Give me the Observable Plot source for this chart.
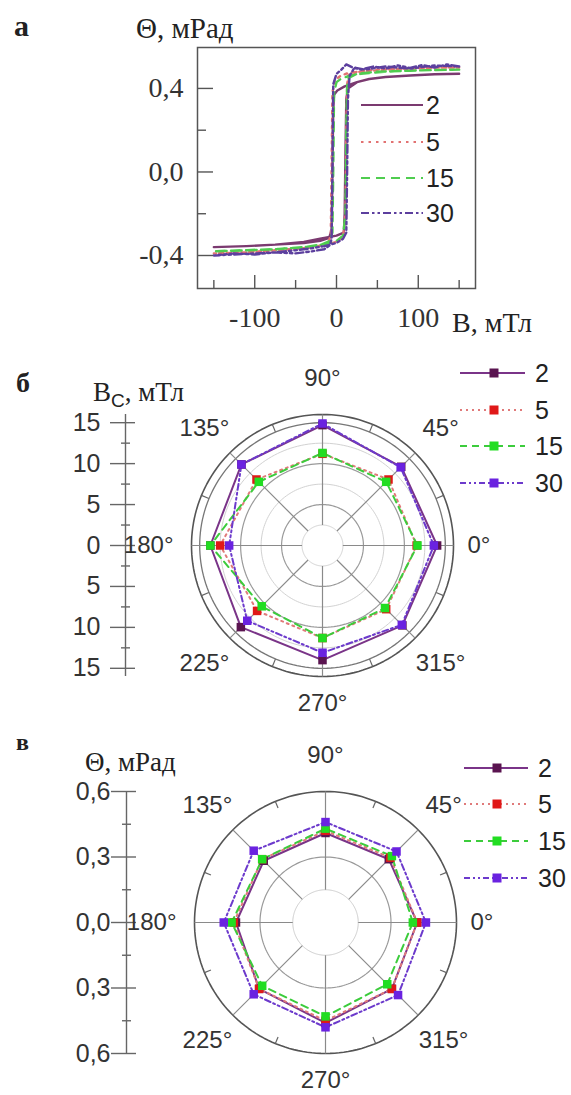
<!DOCTYPE html>
<html><head><meta charset="utf-8">
<script src="https://cdn.jsdelivr.net/npm/d3@7"></script>
<script src="https://cdn.jsdelivr.net/npm/@observablehq/plot@0.6"></script>
<style>
body{margin:0;background:#fff;}
#wrap{position:relative;width:571px;height:1095px;overflow:hidden;background:#fff;}
#wrap svg{position:absolute;left:0;}
</style></head><body><div id="wrap"></div>
<script>
// ---------- data ----------
const seriesNames = ["2", "5", "15", "30"];

// (a) hysteresis loops: field B (mT) and rotation Θ (mrad)
const s2B  = [150,120,90,60,40,25,10,1,-3,-4,-5,-6,-9,-20,-40,-75,-110,-150, -150,-110,-75,-40,-20,0,9,10,11,12,14,25,40,60,90,120,150];
const s2T  = [0.47,0.468,0.462,0.455,0.445,0.43,0.41,0.39,0.37,0.30,0.0,-0.28,-0.315,-0.33,-0.34,-0.348,-0.355,-0.36, -0.36,-0.355,-0.348,-0.335,-0.32,-0.305,-0.29,-0.2,0.1,0.35,0.40,0.43,0.445,0.455,0.462,0.468,0.47];
const s5B  = [150,120,90,60,30,15,5,-2,-5,-6,-7,-10,-20,-40,-75,-110,-150, -150,-110,-75,-40,-15,0,8,11,12,13,15,25,50,90,120,150];
const s5T  = [0.50,0.50,0.495,0.49,0.48,0.475,0.46,0.44,0.38,0.0,-0.30,-0.34,-0.355,-0.365,-0.375,-0.385,-0.39, -0.39,-0.385,-0.375,-0.365,-0.35,-0.335,-0.31,-0.2,0.2,0.42,0.465,0.48,0.49,0.495,0.50,0.50];
const s15B = [150,120,90,60,30,15,5,0,-3,-4,-5,-8,-20,-40,-75,-110,-150, -150,-110,-75,-40,-15,0,8,11,12,13,15,25,50,90,120,150];
const s15T = [0.49,0.488,0.485,0.48,0.47,0.46,0.445,0.43,0.38,0.0,-0.29,-0.33,-0.35,-0.36,-0.37,-0.375,-0.38, -0.38,-0.375,-0.37,-0.36,-0.345,-0.33,-0.305,-0.2,0.2,0.41,0.45,0.47,0.48,0.485,0.488,0.49];
const s30B = [150,135,120,105,90,75,60,45,30,20,12,6,0,-4,-5,-6,-8,-15,-30,-50,-75,-100,-125,-150, -150,-125,-100,-75,-50,-30,-15,0,8,12,13,14,16,22,35,60,90,120,150];
const s30T = [0.505,0.515,0.50,0.512,0.498,0.51,0.495,0.505,0.49,0.50,0.515,0.49,0.47,0.42,0.0,-0.32,-0.35,-0.37,-0.38,-0.39,-0.385,-0.395,-0.39,-0.40, -0.40,-0.395,-0.39,-0.385,-0.375,-0.365,-0.355,-0.34,-0.32,-0.29,0.0,0.35,0.46,0.50,0.49,0.505,0.495,0.51,0.505];
const hystXMajor = [-100, 0, 100];
const hystXMinor = [-150, -50, 50, 150];
const hystYMajor = [-0.4, 0, 0.4];
const hystYMinor = [-0.2, 0.2];

// (б, в) polar data
const angles = [0, 45, 90, 135, 180, 225, 270, 315];
const angleLabels = ["0°", "45°", "90°", "135°", "180°", "225°", "270°", "315°"];
const bc2  = [14.0, 13.6, 14.7, 14.0, 13.7, 14.1, 14.0, 13.8];
const bc5  = [11.5, 11.4, 11.2, 11.4, 12.5, 11.3, 11.3, 11.0];
const bc15 = [11.6, 11.0, 11.3, 11.0, 13.7, 10.5, 11.3, 10.8];
const bc30 = [13.6, 13.5, 14.9, 14.0, 11.4, 13.0, 13.1, 13.7];
const th2  = [0.42, 0.41, 0.41, 0.40, 0.41, 0.43, 0.46, 0.43];
const th5  = [0.42, 0.42, 0.42, 0.41, 0.42, 0.43, 0.45, 0.43];
const th15 = [0.40, 0.43, 0.43, 0.41, 0.43, 0.41, 0.43, 0.40];
const th30 = [0.46, 0.46, 0.46, 0.465, 0.466, 0.465, 0.48, 0.47];
const bcTicks  = [-15, -10, -5, 0, 5, 10, 15];
const bcMinor  = [-12.5, -7.5, -2.5, 2.5, 7.5, 12.5];
const bcRings  = [2.5, 5, 7.5, 10, 12.5, 15, 16];
const thTicks  = [-0.6, -0.3, 0, 0.3, 0.6];
const thMinor  = [-0.45, -0.15, 0.15, 0.45];
const thRings  = [0.15, 0.3, 0.6];

// ---------- styles ----------
const hystStyle = {
  "2":  {stroke: "#7b3a70", dash: null, w: 2.4},
  "5":  {stroke: "#e27272", dash: "2.5,5", w: 2.4},
  "15": {stroke: "#4fcd4f", dash: "9,6", w: 2.4},
  "30": {stroke: "#5c3f9e", dash: "8,3,2.5,3,2.5,3", w: 2.4}
};
const polStyle = {
  "2":  {stroke: "#7a3488", dash: null, marker: "#5a1450", w: 2},
  "5":  {stroke: "#e07a7a", dash: "2,4", marker: "#e01818", w: 2},
  "15": {stroke: "#3ccc3c", dash: "7,5", marker: "#22dd22", w: 2},
  "30": {stroke: "#6c3acc", dash: "6,3,2,3,2,3", marker: "#6a22e0", w: 2}
};
const SANS = "'Liberation Sans', Arial, sans-serif";
const SERIF = "'Liberation Serif', 'Times New Roman', serif";
const wrap = document.getElementById("wrap");

// ---------- (a) hysteresis ----------
const hystSets = {"2": [s2B, s2T], "5": [s5B, s5T], "15": [s15B, s15T], "30": [s30B, s30T]};
const hystRows = seriesNames.flatMap(n => hystSets[n][0].map((b, i) => ({name: n, B: b, T: hystSets[n][1][i]})));
const A = {w: 571, h: 345, left: 197, right: 475, top: 47, bottom: 288};
const fmtComma = d => (Math.abs(d) < 1e-9 ? 0 : d).toFixed(1).replace(".", ",");
const plotA = Plot.plot({
  width: A.w, height: A.h,
  marginLeft: A.left, marginRight: A.w - A.right, marginTop: A.top, marginBottom: A.h - A.bottom,
  x: {domain: [-170, 170]},
  y: {domain: [-0.558, 0.596]},
  style: {fontFamily: SERIF, fontSize: "28px", color: "#333", background: "transparent", overflow: "visible"},
  marks: [
    ...seriesNames.map(n => Plot.line(hystRows.filter(d => d.name === n), {
      x: "B", y: "T", stroke: hystStyle[n].stroke, strokeWidth: hystStyle[n].w,
      strokeDasharray: hystStyle[n].dash, curve: "linear"
    })),
    Plot.tickX(hystXMajor, {x: d => d, insetTop: (A.bottom - A.top) - 13, stroke: "#555", strokeWidth: 1.4}),
    Plot.tickX(hystXMinor, {x: d => d, insetTop: (A.bottom - A.top) - 8, stroke: "#555", strokeWidth: 1.4}),
    Plot.tickY(hystYMajor, {y: d => d, insetRight: (A.right - A.left) - 16, stroke: "#555", strokeWidth: 1.4}),
    Plot.tickY(hystYMinor, {y: d => d, insetRight: (A.right - A.left) - 9, stroke: "#555", strokeWidth: 1.4}),
    Plot.axisX(hystXMajor, {tickSize: 0, tickPadding: 19, tickFormat: d => String(d), label: null, fontSize: 28, fill: "#333"}),
    Plot.axisY(hystYMajor, {tickSize: 0, tickPadding: 14, tickFormat: fmtComma, label: null, fontSize: 28, fill: "#333"}),
    Plot.frame({stroke: "#555", strokeWidth: 1.5})
  ]
});
plotA.style.top = "0px";
wrap.appendChild(plotA);

// ---------- polar helper ----------
function polarPlot(cfg) {
  const W = 571, H = cfg.height;
  const k = cfg.R / cfg.rMax;
  const rad = a => a * Math.PI / 180;
  const ringPts = cfg.rings.flatMap((r, j) => d3.range(0, 361, 2).map(a => ({ring: j, r, x: r * Math.cos(rad(a)), y: r * Math.sin(rad(a))})));
  const spokes = angles.map(a => ({x1: cfg.spokeIn * Math.cos(rad(a)), y1: cfg.spokeIn * Math.sin(rad(a)), x2: cfg.rMax * Math.cos(rad(a)), y2: cfg.rMax * Math.sin(rad(a))}));
  const minorAng = angles.map(a => a + 22.5);
  const rIn = cfg.rMax - cfg.minorLen / k;
  const minorTicks = minorAng.map(a => ({x1: rIn * Math.cos(rad(a)), y1: rIn * Math.sin(rad(a)), x2: cfg.rMax * Math.cos(rad(a)), y2: cfg.rMax * Math.sin(rad(a))}));
  const ax = (cfg.axisPx - cfg.cx) / k;
  const pts = seriesNames.flatMap(n => cfg.values[n].map((v, i) => ({name: n, a: angles[i], r: v, x: v * Math.cos(rad(angles[i])), y: v * Math.sin(rad(angles[i]))})));
  const closed = n => { const p = pts.filter(d => d.name === n); return [...p, p[0]]; };
  const lab = angles.map((a, i) => {
    let dx, dy, anchor = "middle";
    if (a === 0) { dx = 145; dy = 0; anchor = "start"; }
    else if (a === 180) { dx = -149; dy = 0; anchor = "end"; }
    else if (a === 90) { dx = 0; dy = 167; }
    else if (a === 270) { dx = 0; dy = -158; }
    else { dx = 167 * Math.cos(rad(a)); dy = 166 * Math.sin(rad(a)); }
    return {text: angleLabels[i], x: dx / k, y: dy / k, anchor};
  });
  const ringColor = cfg.ringColor;
  const marks = [
    ...cfg.rings.map((r, j) => Plot.line(ringPts.filter(d => d.ring === j), {x: "x", y: "y", stroke: ringColor(r).c, strokeWidth: ringColor(r).w})),
    Plot.link(spokes, {x1: "x1", y1: "y1", x2: "x2", y2: "y2", stroke: "#8a8a8a", strokeWidth: 1.2}),
    Plot.link(minorTicks, {x1: "x1", y1: "y1", x2: "x2", y2: "y2", stroke: "#666", strokeWidth: 1.2}),
    ...seriesNames.map(n => Plot.line(closed(n), {x: "x", y: "y", stroke: polStyle[n].stroke, strokeWidth: polStyle[n].w, strokeDasharray: polStyle[n].dash})),
    ...seriesNames.map(n => Plot.dot(pts.filter(d => d.name === n), {x: "x", y: "y", symbol: "square", r: 4.8, fill: polStyle[n].marker, stroke: null})),
    // left radial axis
    Plot.ruleX([ax], {x: d => d, y1: -cfg.axisMax, y2: cfg.axisMax, stroke: "#666", strokeWidth: 1.4}),
    Plot.ruleY(cfg.ticks, {y: d => d, x1: ax - 15 / k, x2: ax + 10 / k, stroke: "#666", strokeWidth: 1.4}),
    Plot.ruleY(cfg.minor, {y: d => d, x1: ax - 4 / k, x2: ax + 5 / k, stroke: "#666", strokeWidth: 1.4}),
    Plot.text(cfg.ticks, {x: ax - cfg.labelGap / k, y: d => d, text: cfg.tickFmt, textAnchor: "end", fontSize: 25, fontFamily: SANS, fill: "#333"}),
    ...["start", "middle", "end"].map(an => Plot.text(lab.filter(d => d.anchor === an), {x: "x", y: "y", text: "text", textAnchor: an, fontSize: 24, fontFamily: SANS, fill: "#333"}))
  ];
  const p = Plot.plot({
    width: W, height: H, margin: 0,
    x: {domain: [-cfg.cx / k, (W - cfg.cx) / k], axis: null},
    y: {domain: [-(H - cfg.cy) / k, cfg.cy / k], axis: null},
    style: {background: "transparent", overflow: "visible"},
    marks
  });
  p.style.top = cfg.top + "px";
  return p;
}

const plotB = polarPlot({
  top: 350, height: 370, cx: 322, cy: 195, R: 131, rMax: 16,
  rings: bcRings, spokeIn: 2.5, minorLen: 8, axisPx: 125, axisMax: 16, labelGap: 25,
  ticks: bcTicks, minor: bcMinor, tickFmt: d => String(Math.abs(d)),
  ringColor: r => r === 16 ? {c: "#555", w: 1.6} : (r === 15 ? {c: "#777", w: 1.3} : (r % 5 === 0 ? {c: "#9a9a9a", w: 1.2} : {c: "#d2d2d2", w: 1})),
  values: {"2": bc2, "5": bc5, "15": bc15, "30": bc30}
});
wrap.appendChild(plotB);

const plotC = polarPlot({
  top: 725, height: 370, cx: 325, cy: 197, R: 131, rMax: 0.6,
  rings: thRings, spokeIn: 0.15, minorLen: 7, axisPx: 126, axisMax: 0.6, labelGap: 16,
  ticks: thTicks, minor: thMinor, tickFmt: d => fmtComma(Math.abs(d)),
  ringColor: r => r === 0.6 ? {c: "#555", w: 1.6} : (r === 0.3 ? {c: "#9a9a9a", w: 1.2} : {c: "#cfcfcf", w: 1}),
  values: {"2": th2, "5": th5, "15": th15, "30": th30}
});
wrap.appendChild(plotC);

// ---------- overlay: panel letters, titles, legends ----------
const ov = d3.select(wrap).append("svg").attr("width", 571).attr("height", 1095).style("top", "0px").style("pointer-events", "none");
const txt = (x, y, s, o = {}) => ov.append("text").attr("x", x).attr("y", y).text(s)
  .attr("font-family", o.ff || SERIF).attr("font-size", o.fs || 26).attr("font-weight", o.fw || "normal")
  .attr("fill", o.fill || "#222").attr("text-anchor", o.anchor || "start");
txt(14, 36, "а", {fs: 30, fw: "bold"});
txt(136, 38, "Θ, мРад", {fs: 29});
txt(452, 332, "B, мТл", {fs: 28});
txt(16, 392, "б", {fs: 28, fw: "bold"});
const bt = ov.append("text").attr("x", 93).attr("y", 401).attr("font-family", SERIF).attr("font-size", 27).attr("fill", "#222");
bt.append("tspan").text("B");
bt.append("tspan").attr("font-family", SANS).attr("font-size", 19).attr("dy", 6).text("C");
bt.append("tspan").attr("dy", -6).text(", мТл");
txt(16, 750, "в", {fs: 24, fw: "bold"});
txt(85, 771, "Θ, мРад", {fs: 27});

function legend(cfg) {
  seriesNames.forEach((n, i) => {
    const y = cfg.rows[i];
    const st = cfg.style[n];
    ov.append("line").attr("x1", cfg.x1).attr("x2", cfg.x2).attr("y1", y).attr("y2", y)
      .attr("stroke", st.stroke).attr("stroke-width", 2.2).attr("stroke-dasharray", st.dash);
    if (cfg.marker) ov.append("rect").attr("x", cfg.mx - 4.5).attr("y", y - 4.5).attr("width", 9).attr("height", 9).attr("fill", st.marker);
    ov.append("text").attr("x", cfg.tx).attr("y", y).attr("dy", "0.36em").text(n)
      .attr("font-family", SANS).attr("font-size", 25).attr("fill", "#222");
  });
}
legend({rows: [105, 142, 178, 213], x1: 361, x2: 423, tx: 426, style: hystStyle, marker: false});
legend({rows: [373, 410, 446, 483], x1: 460, x2: 525, mx: 494, tx: 535, style: polStyle, marker: true});
legend({rows: [768, 804, 841, 878], x1: 464, x2: 528, mx: 497, tx: 538, style: polStyle, marker: true});
</script></body></html>
